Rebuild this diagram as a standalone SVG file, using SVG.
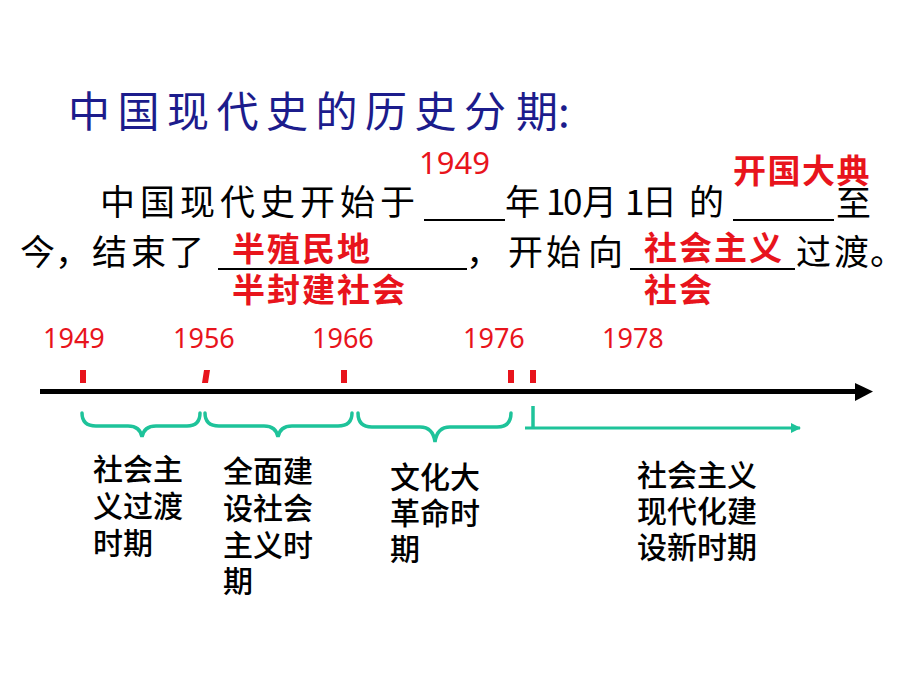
<svg xmlns="http://www.w3.org/2000/svg" width="920" height="683" viewBox="0 0 920 683">
<defs>
<style>
.title{font-family:"Noto Sans CJK SC",sans-serif;font-size:42px;fill:#1c1c8c;}
.body{font-family:"Noto Sans CJK SC",sans-serif;font-size:35px;fill:#000;}
.ans{font-family:"Noto Sans CJK SC",sans-serif;font-size:33px;font-weight:bold;fill:#e8141c;}
.num{font-family:"Noto Sans","Noto Sans CJK SC",sans-serif;font-size:27px;fill:#e8141c;}
.lbl{font-family:"Noto Sans CJK SC",sans-serif;font-size:30px;font-weight:500;fill:#000;}
.ul{stroke:#000;stroke-width:2;}
.tick{fill:#e8141c;}
.brace{fill:none;stroke:#1ec39a;stroke-width:3.5;stroke-linecap:round;}
</style>
<marker id="tealArrow" markerWidth="10" markerHeight="10" refX="9" refY="5" orient="auto" markerUnits="userSpaceOnUse">
<path d="M0,0 L10,5 L0,10 Z" fill="#1ec39a"/>
</marker>
</defs>
<rect width="920" height="683" fill="#fff"/>

<g id="title">
<text class="title" x="68 117.5 167 216.5 266 315.5 365 414.5 464 516" y="127">中国现代史的历史分期:</text>
</g>

<g id="sentence">
<text class="body" x="100 140 180 220 260 300 340 380" y="215">中国现代史开始于</text>
<line class="ul" x1="424" y1="220" x2="505" y2="220"/>
<text class="body" x="505" y="215">年</text>
<text class="body" x="546 563" y="215">10</text>
<text class="body" x="582" y="215">月</text>
<text class="body" x="625" y="215">1</text>
<text class="body" x="642 689" y="215">日的</text>
<line class="ul" x1="733" y1="220" x2="834" y2="220"/>
<text class="body" x="836" y="216">至</text>

<text class="body" x="20 55 92 131 169" y="265">今，结束了</text>
<line class="ul" x1="218" y1="269" x2="467" y2="269"/>
<text class="body" x="466 508 546 588" y="265">，开始向</text>
<line class="ul" x1="630" y1="269" x2="795" y2="269"/>
<text class="body" x="796 834 870" y="265">过渡。</text>
</g>

<g id="answers">
<text class="num" x="419" y="174" style="font-size:31px">1949</text>
<text class="ans" x="733" y="183" style="letter-spacing:1.5px">开国大典</text>
<text class="ans" style="letter-spacing:2px"><tspan x="232" y="261">半殖民地</tspan><tspan x="232" y="302">半封建社会</tspan></text>
<text class="ans" style="letter-spacing:2px"><tspan x="644" y="260">社会主义</tspan><tspan x="644" y="302">社会</tspan></text>
</g>

<g id="years">
<text class="num" x="43" y="348">1949</text>
<text class="num" x="173" y="348">1956</text>
<text class="num" x="312" y="348">1966</text>
<text class="num" x="463" y="348">1976</text>
<text class="num" x="602" y="348">1978</text>
</g>

<g id="timeline">
<line x1="40" y1="391.5" x2="858" y2="391.5" stroke="#000" stroke-width="5"/>
<path d="M855,383 L873,391.5 L855,401 Z" fill="#000"/>
<rect class="tick" x="80" y="370" width="6" height="13"/>
<path class="tick" d="M204,370 L210,370 L208,383 L202,383 Z"/>
<rect class="tick" x="341" y="370" width="6" height="13"/>
<rect class="tick" x="508" y="370" width="6" height="13"/>
<rect class="tick" x="530" y="370" width="6" height="13"/>
</g>

<g id="connectors">
<path class="brace" d="M82,413 Q82,426 96,426 L128,426 Q140,426 142,437 Q144,426 156,426 L187,426 Q200,426 200,413"/>
<path class="brace" d="M205,413 Q205,426 219,426 L264,426 Q276,426 278,437 Q280,426 292,426 L338,426 Q352,426 352,413"/>
<path class="brace" d="M358,413 Q358,427 372,427 L420,427 Q433,427 435,442 Q437,427 450,427 L497,427 Q511,427 511,413"/>
<line x1="533" y1="406" x2="533" y2="428" stroke="#1ec39a" stroke-width="3.5"/>
<line x1="525" y1="428" x2="800" y2="428" stroke="#1ec39a" stroke-width="3" marker-end="url(#tealArrow)"/>
</g>

<g id="period1">
<text class="lbl"><tspan x="93" y="480">社会主</tspan><tspan x="93" y="517">义过渡</tspan><tspan x="93" y="554">时期</tspan></text>
</g>
<g id="period2">
<text class="lbl"><tspan x="223" y="482">全面建</tspan><tspan x="223" y="519">设社会</tspan><tspan x="223" y="556">主义时</tspan><tspan x="223" y="592">期</tspan></text>
</g>
<g id="period3">
<text class="lbl"><tspan x="390" y="488">文化大</tspan><tspan x="390" y="524">革命时</tspan><tspan x="390" y="560">期</tspan></text>
</g>
<g id="period4">
<text class="lbl"><tspan x="637" y="486">社会主义</tspan><tspan x="637" y="522">现代化建</tspan><tspan x="637" y="558">设新时期</tspan></text>
</g>
</svg>
